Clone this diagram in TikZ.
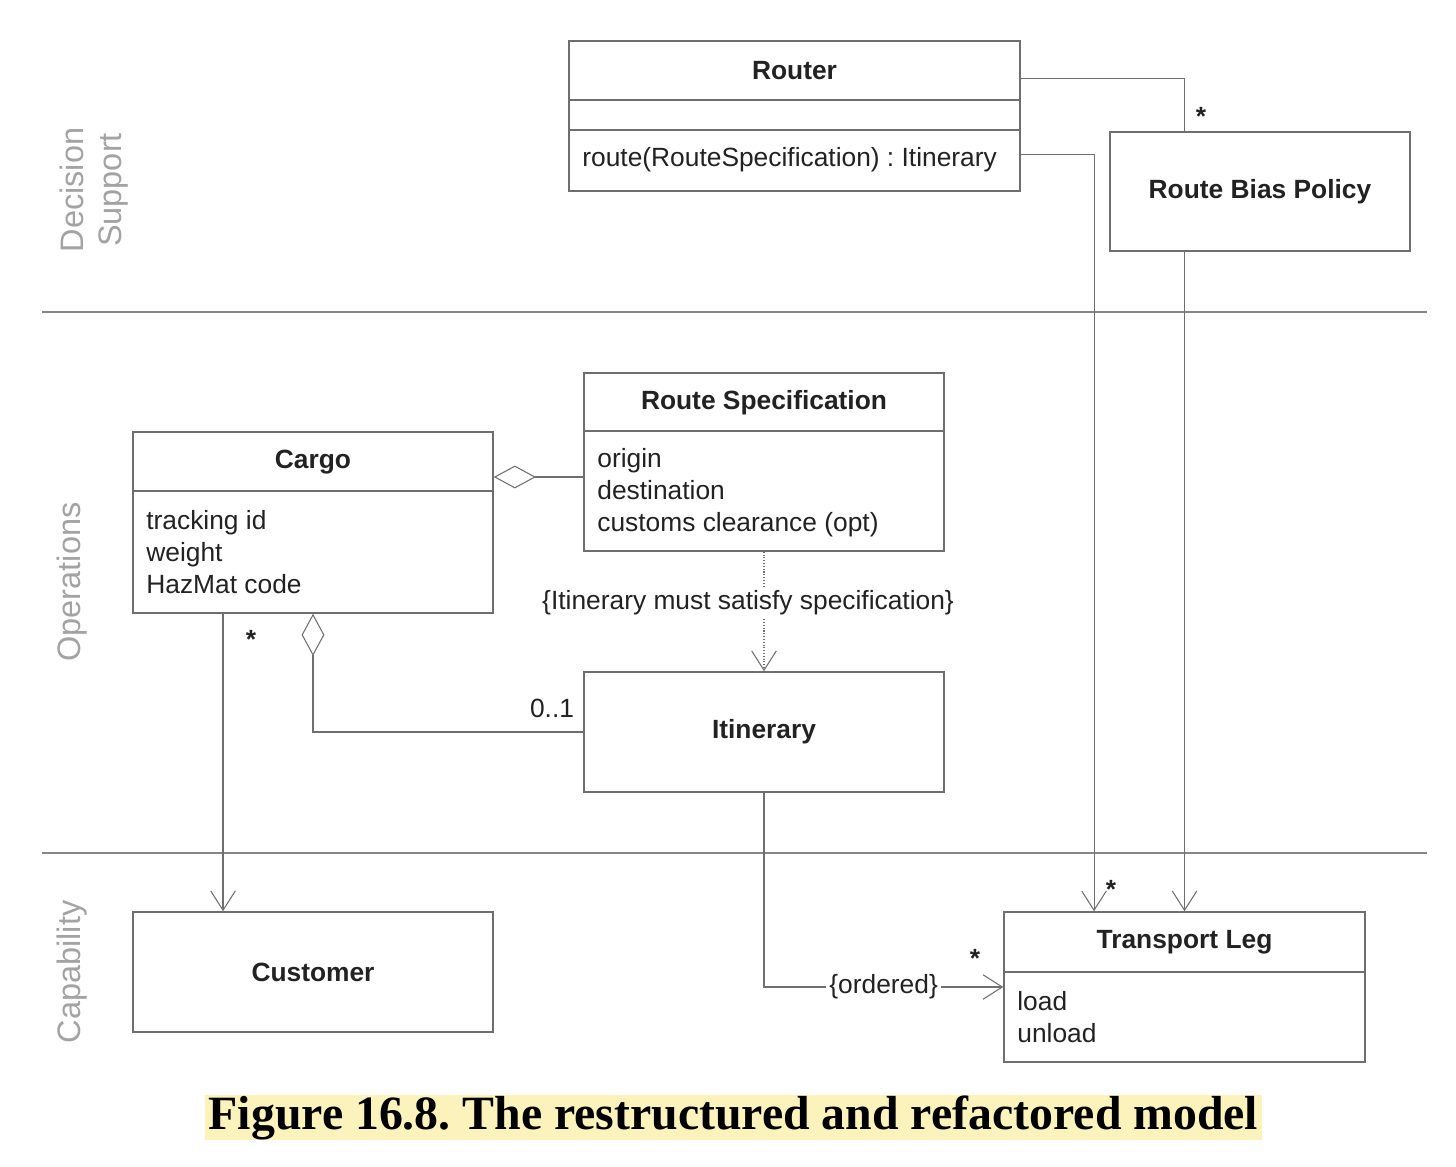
\documentclass[tikz,border=0pt]{standalone}
\usepackage{fontspec}
\setmainfont{Liberation Sans}
\newfontfamily\capfont{Liberation Serif}
\usetikzlibrary{arrows.meta}
\definecolor{linegray}{HTML}{6E6E6E}
\definecolor{lanegray}{HTML}{858585}
\definecolor{lanetext}{HTML}{A3A3A3}
\definecolor{inkgray}{HTML}{222222}
\definecolor{capyellow}{HTML}{FCF3BC}

\begin{document}
\frenchspacing
\begin{tikzpicture}[x=0.02cm, y=-0.02cm,
  every node/.style={text=inkgray, font=\fontsize{15}{18.1}\selectfont},
  classbox/.style={draw=linegray, line width=0.9pt, fill=white, inner sep=0pt},
  ctitle/.style={font=\fontsize{15}{18.1}\selectfont\bfseries},
  attr/.style={anchor=west, align=left, inner sep=0pt},
  divider/.style={draw=linegray, line width=0.9pt},
  assoc/.style={draw=linegray, line width=0.6pt},
  navig/.style={assoc, -{Straight Barb[length=11pt,width=14pt]}},
  aggr/.style={assoc, {Diamond[open,length=24pt,width=13pt]}-},
  depend/.style={assoc, densely dotted, -{Straight Barb[length=11pt,width=14pt]}},
  mult/.style={font=\fontsize{15}{18}\selectfont\bfseries},
  lanelabel/.style={text=lanetext, rotate=90, align=center, font=\fontsize{18.5}{21.5}\selectfont},
  laneline/.style={draw=lanegray, line width=1.6pt}]
\useasboundingbox (0,0) rectangle (1456,1166);

% Layers
\draw[laneline] (42,312) -- (1427,312);
\draw[laneline] (42,853) -- (1427,853);
\node[lanelabel] (decision) at (94,190) {Decision\\Support};
\node[lanelabel] (operations) at (72,582) {Operations};
\node[lanelabel] (capability) at (72,972) {Capability};

% Decision support
\node[classbox, minimum width=9.02cm, minimum height=3cm] (router) at (794.5,116) {};
\draw[divider] ([yshift=-1.2cm]router.north west) -- ([yshift=-1.2cm]router.north east);
\draw[divider] ([yshift=-1.8cm]router.north west) -- ([yshift=-1.8cm]router.north east);
\node[ctitle] (routertitle) at (794.5,71) {Router};
\node[attr] (routerop) at (582,160) {route(RouteSpecification) : Itinerary};

\node[classbox, ctitle, minimum width=6cm, minimum height=2.38cm] (rbp) at (1260,191.5) {Route Bias Policy};

% Operations
\node[classbox, minimum width=7.2cm, minimum height=3.62cm] (cargo) at (313,522.5) {};
\draw[divider] ([yshift=-1.2cm]cargo.north west) -- ([yshift=-1.2cm]cargo.north east);
\node[ctitle] (cargotitle) at (313,462) {Cargo};
\node[attr] (cargoattr) at (146,552) {tracking id\\weight\\HazMat code};

\node[classbox, minimum width=7.2cm, minimum height=3.56cm] (rs) at (764,462) {};
\draw[divider] ([yshift=-1.18cm]rs.north west) -- ([yshift=-1.18cm]rs.north east);
\node[ctitle] (rstitle) at (764,402.5) {Route Specification};
\node[attr] (rsattr) at (597,492.5) {origin\\destination\\customs clearance (opt)};

\node[classbox, ctitle, minimum width=7.2cm, minimum height=2.4cm] (itin) at (764,732) {Itinerary};

% Capability
\node[classbox, ctitle, minimum width=7.2cm, minimum height=2.4cm] (customer) at (313,972) {Customer};

\node[classbox, minimum width=7.22cm, minimum height=3cm] (tleg) at (1184.5,987) {};
\draw[divider] ([yshift=-1.22cm]tleg.north west) -- ([yshift=-1.22cm]tleg.north east);
\node[ctitle] (tlegtitle) at (1184.5,942.5) {Transport Leg};
\node[attr] (tlegattr) at (1017,1017) {load\\unload};

% Associations
\draw[assoc] ([yshift=-0.76cm]router.north east) -| (rbp.north -| tleg.north);
\node[mult] (multrbp) at (1201,116) {*};
\draw[navig] ([yshift=-2.28cm]router.north east) -| ([xshift=-1.81cm]tleg.north);
\node[mult] (multleg) at (1111,889) {*};
\draw[navig] (rbp.south -| tleg.north) -- (tleg.north);

\coordinate (specjoin) at ([yshift=-0.3cm]rs.west);
\draw[aggr] (specjoin -| cargo.east) -- (specjoin);
\draw[aggr] (cargo.south) |- (itin.west);
\node (multone) at (552,708) {0..1};
\draw[navig] ([xshift=-1.8cm]cargo.south) -- ([xshift=-1.8cm]customer.north);
\node[mult] (multcust) at (251,639) {*};

\draw[depend] (rs.south) -- node[pos=0.43, xshift=-0.32cm, fill=white, inner sep=2pt] (constraint) {\{Itinerary must satisfy specification\}} (itin.north);
\draw[navig] (itin.south) |- node[pos=0.75, fill=white, inner sep=2pt] (ordered) {\{ordered\}} (tleg.west);
\node[mult] (multorder) at (975,958) {*};

% Caption
\node[fill=capyellow, minimum width=21.14cm, minimum height=0.9cm, inner sep=0pt, text=black, font={\capfont\bfseries\fontsize{27.2}{30}\selectfont}] (caption) at (733.5,1117.5) {Figure 16.8. The restructured and refactored model};
\end{tikzpicture}
\end{document}
